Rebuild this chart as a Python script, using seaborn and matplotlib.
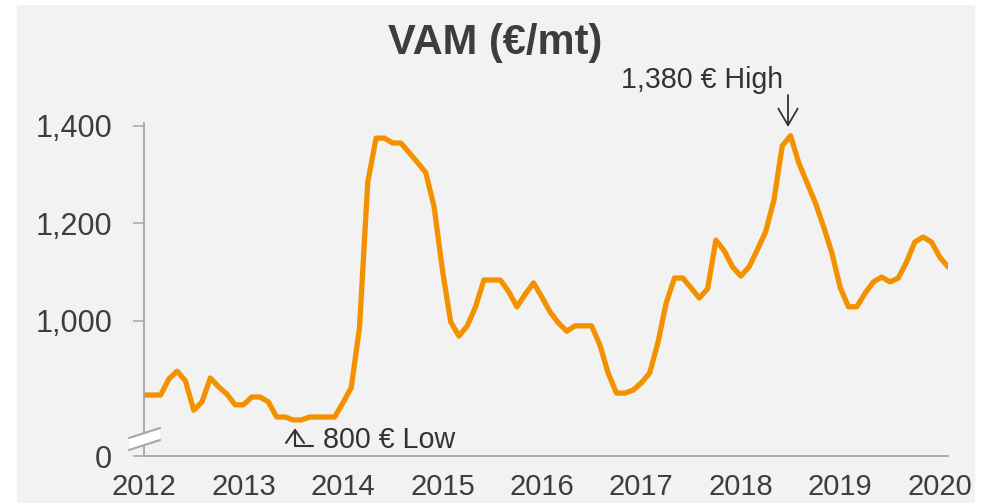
import matplotlib
matplotlib.use("Agg")
import matplotlib.pyplot as plt
import seaborn as sns
import pandas as pd
from matplotlib.patches import Polygon, Rectangle, FancyArrowPatch
from matplotlib.lines import Line2D

# ---------------- data ----------------
years = ["2012", "2013", "2014", "2015", "2016", "2017", "2018", "2019", "2020"]
vam_prices = [
    848, 848, 848, 881, 897, 877, 817, 834, 883, 865, 850, 828,          # 2012
    828, 844, 844, 834, 803, 803, 797, 797, 803, 803, 803, 803,          # 2013
    832, 863, 986, 1285, 1375, 1375, 1365, 1365, 1345, 1325, 1304, 1234,  # 2014
    1105, 998, 969, 990, 1029, 1084, 1084, 1084, 1060, 1029, 1055, 1078,  # 2015
    1049, 1018, 996, 979, 990, 990, 990, 951, 893, 852, 852, 858,        # 2016
    873, 893, 955, 1037, 1088, 1088, 1068, 1047, 1066, 1166, 1144, 1111,  # 2017
    1092, 1111, 1146, 1183, 1248, 1359, 1380, 1324, 1283, 1242, 1193, 1139,  # 2018
    1068, 1029, 1029, 1057, 1080, 1090, 1080, 1088, 1121, 1162, 1172, 1162,  # 2019
    1131, 1111,                                                          # 2020
]
ytick_values = [1000, 1200, 1400]
ytick_labels = ["1,000", "1,200", "1,400"]
axis_floor = 723          # value at the broken axis bottom, labelled "0"
high_label = "1,380 € High"
low_label = "800 € Low"
title = "VAM (€/mt)"

# ---------------- style ----------------
sns.set_theme(style="white")
plt.rcParams["font.family"] = ["Liberation Sans", "DejaVu Sans"]

W, H = 984, 503
fig = plt.figure(figsize=(W / 100, H / 100), dpi=100, facecolor="white")


def fx(x):
    return x / W


def fy(y):
    return 1 - y / H


TXT = "#3d3d3d"
AX = "#a6a6a6"
ORANGE = "#f39200"

bg = Rectangle((fx(17), 0), fx(975) - fx(17), fy(5), transform=fig.transFigure,
               facecolor="#f2f2f2", edgecolor="none", zorder=-10)
fig.add_artist(bg)

ax = fig.add_axes([fx(144), fy(456), fx(948) - fx(144), fy(123) - fy(456)])
ax.set_facecolor("none")

df = pd.DataFrame({"month": range(len(vam_prices)), "price": vam_prices})
sns.lineplot(data=df, x="month", y="price", ax=ax, color=ORANGE, linewidth=3.8)
ln = ax.lines[0]
ln.set_solid_joinstyle("round")
ln.set_solid_capstyle("round")

ax.set_xlim(0, len(vam_prices) - 1)
ax.set_ylim(axis_floor, 1406)
ax.set_xlabel("")
ax.set_ylabel("")
ax.set_xticks([12 * i for i in range(len(years))])
ax.set_xticklabels(years)
ax.set_yticks([axis_floor] + ytick_values)
ax.set_yticklabels(["0"] + ytick_labels)
ax.tick_params(axis="x", length=0, pad=12, labelsize=21, labelcolor=TXT)
ax.tick_params(axis="y", length=8, width=1.1, color=AX, direction="out",
               pad=15, labelsize=22, labelcolor=TXT, left=True)
for s in ["top", "right"]:
    ax.spines[s].set_visible(False)
for s in ["left", "bottom"]:
    ax.spines[s].set_color(AX)
    ax.spines[s].set_linewidth(1.3)

# axis break marks
brk = Polygon([(fx(129), fy(438)), (fx(160), fy(428)), (fx(160), fy(440)), (fx(129), fy(450))],
              closed=True, transform=fig.transFigure, facecolor="white",
              edgecolor="none", zorder=5)
fig.add_artist(brk)
for (x0, y0, x1, y1) in [(129, 438, 160, 428), (129, 450, 160, 440)]:
    fig.add_artist(Line2D([fx(x0), fx(x1)], [fy(y0), fy(y1)], transform=fig.transFigure,
                          color=AX, linewidth=1.5, zorder=6))

# title
fig.text(fx(495), fy(54), title, ha="center", va="baseline", fontsize=30,
         fontweight="bold", color=TXT)

# high annotation
fig.text(fx(621), fy(88), high_label, ha="left", va="baseline", fontsize=20.6, color="#333333")
arr = FancyArrowPatch((fx(788), fy(95)), (fx(788), fy(127)), transform=fig.transFigure,
                      arrowstyle="->,head_length=12,head_width=7", color="#333333",
                      linewidth=1.3, shrinkA=0, shrinkB=0, mutation_scale=1, zorder=7)
fig.add_artist(arr)

# low annotation
fig.text(fx(323), fy(448), low_label, ha="left", va="baseline", fontsize=20.6, color="#333333")
for pts in [[(286, 443), (295, 430), (304, 443)], [(295, 430), (295, 446), (313, 446)]]:
    xs = [fx(p[0]) for p in pts]
    ys = [fy(p[1]) for p in pts]
    fig.add_artist(Line2D(xs, ys, transform=fig.transFigure, color="#333333",
                          linewidth=1.5, zorder=7))

fig.savefig("out.png", dpi=100, facecolor="white")
